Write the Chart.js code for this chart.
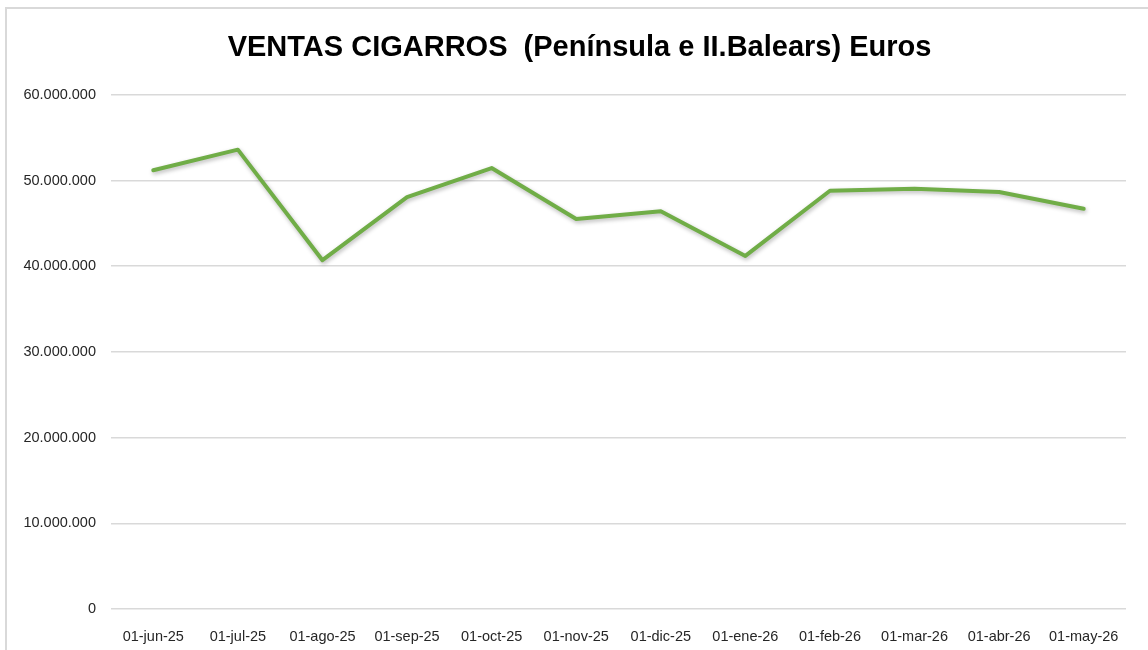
<!DOCTYPE html>
<html>
<head>
<meta charset="utf-8">
<script src="https://cdn.jsdelivr.net/npm/chart.js@4/dist/chart.umd.min.js"></script>
<style>
  html, body { margin: 0; padding: 0; background: #fff; overflow: hidden; }
  #wrap { position: relative; width: 1148px; height: 650px; overflow: hidden; }
  #myChart { position: absolute; left: 0; top: 0; }
  #frame {
    position: absolute; left: 5px; top: 7px; right: -10px; bottom: -10px;
    border-left: 2px solid #d9d9d9; border-top: 2px solid #d9d9d9;
    pointer-events: none;
  }
</style>
</head>
<body>
<div id="wrap">
  <canvas id="myChart" width="1159" height="650"></canvas>
  <div id="frame"></div>
</div>
<script>
// datos
const meses = ['01-jun-25', '01-jul-25', '01-ago-25', '01-sep-25', '01-oct-25', '01-nov-25',
  '01-dic-25', '01-ene-26', '01-feb-26', '01-mar-26', '01-abr-26', '01-may-26'];
const ventas = [51200000, 53600000, 40700000, 48050000, 51450000, 45500000,
  46400000, 41200000, 48800000, 49050000, 48650000, 46700000];
const yTicks = [0, 10000000, 20000000, 30000000, 40000000, 50000000, 60000000];
const titulo = 'VENTAS CIGARROS  (Península e II.Balears) Euros';

// formato con puntos de miles
const fmt = (v) => String(v).replace(/\B(?=(\d{3})+(?!\d))/g, '.');

// sombra suave de la línea (como en Excel)
const sombra = {
  id: 'sombra',
  beforeDatasetDraw(chart) {
    const ctx = chart.ctx;
    ctx.save();
    ctx.shadowColor = 'rgba(0,0,0,0.28)';
    ctx.shadowBlur = 4;
    ctx.shadowOffsetX = 1;
    ctx.shadowOffsetY = 2;
  },
  afterDatasetDraw(chart) {
    chart.ctx.restore();
  }
};

const data = {
  labels: meses,
  datasets: [
    {
      label: 'Ventas',
      data: ventas,
      borderColor: '#70ad47',
      borderWidth: 4,
      borderJoinStyle: 'round',
      borderCapStyle: 'round',
      pointRadius: 0,
      tension: 0,
      fill: false,
    },
  ],
};

const fuente = '"Liberation Sans", Arial, sans-serif';

const config = {
  type: 'line',
  data: data,
  plugins: [sombra],
  options: {
    responsive: false,
    animation: false,
    layout: { padding: 0 },
    plugins: {
      legend: { display: false },
      tooltip: { enabled: false },
      title: {
        display: true,
        text: titulo,
        color: '#000',
        font: { family: fuente, size: 29, weight: 'bold', lineHeight: 1.2 },
        padding: { top: 31, bottom: 29 },
      },
    },
    scales: {
      x: {
        offset: true,
        grid: { display: false },
        border: { display: false },
        ticks: {
          color: '#262626',
          padding: 11,
          maxRotation: 0,
          autoSkip: false,
          font: { family: fuente, size: 14.5 },
        },
        afterFit: (scale) => { scale.height = 41; },
      },
      y: {
        min: 0,
        max: 60000000,
        afterBuildTicks: (scale) => { scale.ticks = yTicks.map((v) => ({ value: v })); },
        grid: { color: '#d9d9d9', lineWidth: 1.5, drawTicks: false },
        border: { display: false },
        ticks: {
          color: '#262626',
          padding: 15,
          callback: (v) => fmt(v),
          font: { family: fuente, size: 14.5 },
        },
        afterFit: (scale) => { scale.width = 111; },
      },
      // eje vacío a la derecha, sólo reserva espacio
      y2: {
        position: 'right',
        min: 0,
        max: 60000000,
        grid: { display: false },
        border: { display: false },
        ticks: { display: false },
        afterFit: (scale) => { scale.width = 33; },
      },
    },
  },
};

const myChart = new Chart(document.getElementById('myChart'), config);
</script>
</body>
</html>
